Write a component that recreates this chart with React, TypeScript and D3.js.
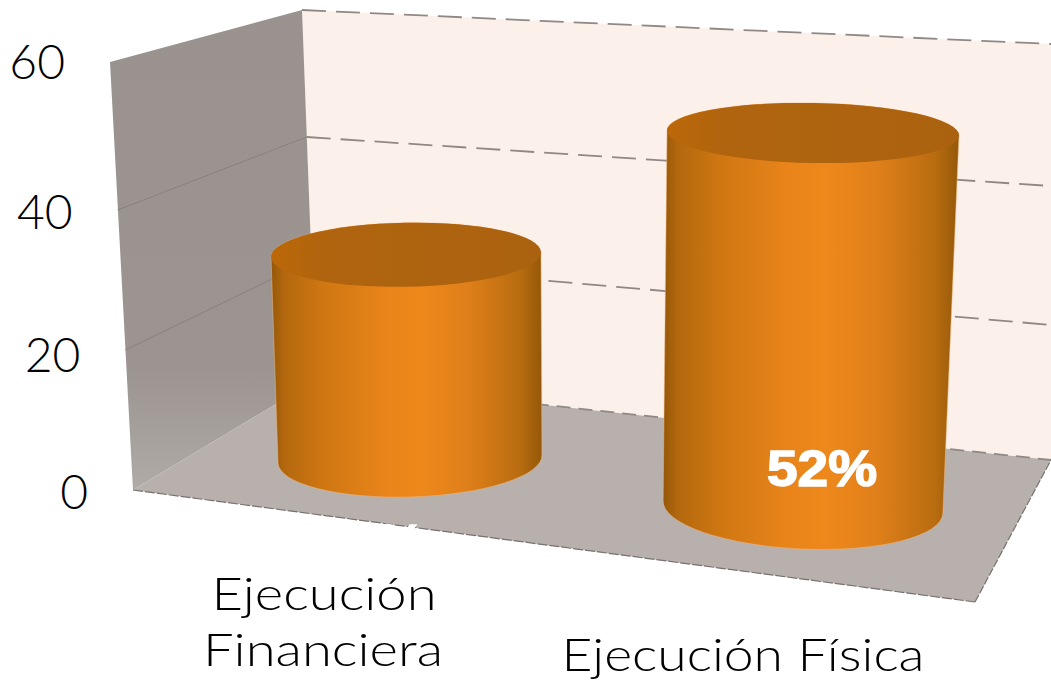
import React from "react";
import * as d3 from "d3";

const categories = ["Ejecución Financiera", "Ejecución Física"];
const values = [28.4, 52];
const valueLabels = ["28%", "52%"];
const ticks = [0, 20, 40, 60];

const W = 1051, H = 681;
const FONT = "'Lato', 'Open Sans', sans-serif";

// perspective box edges as scales of the value axis
const frontY = d3.scaleLinear().domain(ticks).range([490, 350, 210, 62]);
const frontX = d3.scaleLinear().domain([0, 60]).range([133, 110]);
const backY = d3.scaleLinear().domain(ticks).range([380, 260, 137, 10]);
const backX = d3.scaleLinear().domain([0, 60]).range([316, 302]);
const rightY = d3.scaleLinear().domain(ticks).range([460, 325, 186, 44]);
const labelY = d3.scaleLinear().domain(ticks).range([492, 355, 212, 62]);
const labelX = d3.scaleLinear().domain([0, 60]).range([88, 65]);

// per-category cylinder placement
const idx = d3.scaleLinear().domain([0, 1]);
const baseX = idx.copy().range([410, 803]);
const baseCy = idx.copy().range([459, 507]);
const baseRx = idx.copy().range([132, 140]);
const baseRy = idx.copy().range([38, 42]);
const baseRot = idx.copy().range([-1.7, 2.6]);
const topLean = idx.copy().range([-4, 10]);
const topRx = idx.copy().range([135, 146]);
const topRy = idx.copy().range([32, 30]);
const topRot = idx.copy().range([-1, 1]);
const heightScale = d3.scaleLinear().domain([0, 52]).range([0, 374]);

function poly(pts: [number, number][]) {
  const p = d3.path();
  pts.forEach((q, i) => (i ? p.lineTo(q[0], q[1]) : p.moveTo(q[0], q[1])));
  p.closePath();
  return p.toString();
}

function ends(cx: number, cy: number, rx: number, rot: number) {
  const a = (rot * Math.PI) / 180;
  return {
    l: [cx - rx * Math.cos(a), cy - rx * Math.sin(a)],
    r: [cx + rx * Math.cos(a), cy + rx * Math.sin(a)],
  };
}

function Cylinder({ i }: { i: number }) {
  const bx = baseX(i), by = baseCy(i), brx = baseRx(i), bry = baseRy(i), brot = baseRot(i);
  const tx = bx + topLean(i), ty = by - heightScale(values[i]), trx = topRx(i), tRy = topRy(i), trot = topRot(i);
  const b = ends(bx, by, brx, brot);
  const t = ends(tx, ty, trx, trot);
  const body =
    `M${t.l[0]},${t.l[1]} L${b.l[0]},${b.l[1]} ` +
    `A${brx},${bry} ${brot} 0 0 ${b.r[0]},${b.r[1]} ` +
    `L${t.r[0]},${t.r[1]} A${trx},${tRy} ${trot} 0 0 ${t.l[0]},${t.l[1]} Z`;
  return (
    <g>
      <path d={body} fill="url(#cyl)" stroke="#f3b77f" strokeOpacity={0.5} strokeWidth={1} />
      <ellipse cx={tx} cy={ty} rx={trx} ry={tRy} fill="url(#cap)" transform={`rotate(${trot} ${tx} ${ty})`} />
    </g>
  );
}

export default function App() {
  const fl: [number, number] = [frontX(0), frontY(0)];
  const bl: [number, number] = [backX(0), backY(0)];
  const ftl: [number, number] = [frontX(60), frontY(60)];
  const btl: [number, number] = [backX(60), backY(60)];
  const gridTicks = ticks.slice(1, 3);
  return (
    <svg width={W} height={H} style={{ position: "fixed", left: 0, top: 0, background: "#fff" }}>
      <defs>
        <linearGradient id="cyl" x1="0" x2="1" y1="0" y2="0">
          <stop offset="0" stopColor="#945809" />
          <stop offset="0.05" stopColor="#b4680e" />
          <stop offset="0.2" stopColor="#d07712" />
          <stop offset="0.42" stopColor="#e8841a" />
          <stop offset="0.55" stopColor="#ee881b" />
          <stop offset="0.72" stopColor="#e0801a" />
          <stop offset="0.92" stopColor="#b86c10" />
          <stop offset="1" stopColor="#945809" />
        </linearGradient>
        <linearGradient id="cap" x1="0" x2="1" y1="0" y2="0">
          <stop offset="0" stopColor="#bc6809" />
          <stop offset="0.2" stopColor="#b0640e" />
          <stop offset="1" stopColor="#ab6210" />
        </linearGradient>
        <linearGradient id="side" x1="0" x2="0" y1="0" y2="1">
          <stop offset="0" stopColor="#99928e" />
          <stop offset="0.75" stopColor="#9b9490" />
          <stop offset="1" stopColor="#b0aba7" />
        </linearGradient>
      </defs>

      {/* back wall */}
      <path d={poly([btl, [W, rightY(60)], [W, rightY(0)], bl])} fill="#fcf0ea" />
      {/* side wall */}
      <path d={poly([ftl, btl, bl, fl])} fill="url(#side)" />
      {/* floor */}
      <path d={poly([fl, bl, [W, rightY(0)], [W, 460], [975, 602]])} fill="#b8b0ac" />

      {/* gridlines */}
      {ticks.map((t) => (
        <line key={`b${t}`} x1={backX(t)} y1={backY(t)} x2={W} y2={rightY(t)} stroke="#8f8884"
          strokeWidth={1.8} strokeDasharray={t === 0 ? "14 8" : "24 10"} />
      ))}
      {gridTicks.map((t) => (
        <line key={`s${t}`} x1={frontX(t)} y1={frontY(t)} x2={backX(t)} y2={backY(t)} stroke="#88817d" strokeWidth={1} />
      ))}
      <line x1={fl[0]} y1={fl[1]} x2={975} y2={602} stroke="#77716e" strokeWidth={1.2} strokeDasharray="10 2" />
      <line x1={975} y1={602} x2={W} y2={460} stroke="#77716e" strokeWidth={1.2} strokeDasharray="8 2" />

      {values.map((_, i) => <Cylinder key={categories[i]} i={i} />)}

      {/* value labels */}
      <text x={370} y={560} textAnchor="middle" fill="#fff" stroke="#fff" strokeWidth={1.5}
        fontFamily="'Liberation Sans', sans-serif" fontWeight="bold" fontSize={50}
        textLength={110} lengthAdjust="spacingAndGlyphs">{valueLabels[0]}</text>
      <text x={822} y={486} textAnchor="middle" fill="#fff" stroke="#fff" strokeWidth={1.5}
        fontFamily="'Liberation Sans', sans-serif" fontWeight="bold" fontSize={50}
        textLength={110} lengthAdjust="spacingAndGlyphs">{valueLabels[1]}</text>

      {/* axis labels */}
      {ticks.map((t) => (
        <text key={t} x={labelX(t)} y={labelY(t)} dy="0.36em" textAnchor="end" fontFamily={FONT}
          fontWeight={300} fontSize={48} fill="#000">{t}</text>
      ))}
      <text x={324} y={610} textAnchor="middle" fontFamily={FONT} fontWeight={300} fontSize={46} fill="#000"
        textLength={225} lengthAdjust="spacingAndGlyphs">Ejecución</text>
      <text x={323} y={666} textAnchor="middle" fontFamily={FONT} fontWeight={300} fontSize={46} fill="#000"
        textLength={240} lengthAdjust="spacingAndGlyphs">Financiera</text>
      <text x={743} y={671} textAnchor="middle" fontFamily={FONT} fontWeight={300} fontSize={46} fill="#000"
        textLength={363} lengthAdjust="spacingAndGlyphs">{categories[1]}</text>
    </svg>
  );
}
